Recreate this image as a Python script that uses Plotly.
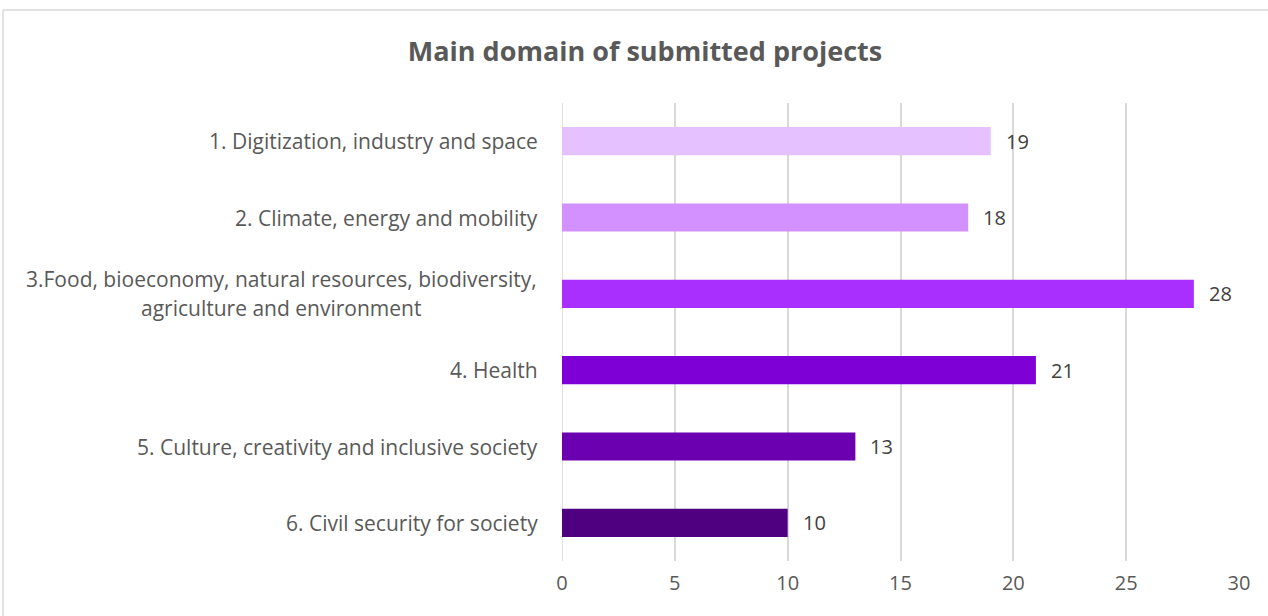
import plotly.graph_objects as go

categories = [
    "1. Digitization, industry and space",
    "2. Climate, energy and mobility",
    "3.Food, bioeconomy, natural resources, biodiversity,<br>agriculture and environment",
    "4. Health",
    "5. Culture, creativity and inclusive society",
    "6. Civil security for society",
]
values = [19, 18, 28, 21, 13, 10]
colors = ["#E6C1FF", "#D291FF", "#A92FFE", "#7F00D6", "#6B00B0", "#4E0080"]
x_ticks = [0, 5, 10, 15, 20, 25, 30]
title = "Main domain of submitted projects"

FONT = "Open Sans"
GREY = "#595959"
LINE_H = 29

fig = go.Figure()
fig.add_trace(go.Bar(
    x=values, y=categories, orientation="h",
    marker=dict(color=colors, line=dict(width=0)),
    width=0.37, hoverinfo="x+y",
))

annotations = []
for c in categories:
    lines = c.split("<br>")
    n = len(lines)
    for i, ln in enumerate(lines):
        annotations.append(dict(
            x=0, xref="paper", y=c, yref="y", text=ln, showarrow=False,
            xanchor="right" if n == 1 else "center",
            xshift=-22 if n == 1 else -281,
            yshift=((n - 1) / 2 - i) * LINE_H,
            font=dict(family=FONT, size=21, color=GREY),
        ))
for c, v in zip(categories, values):
    annotations.append(dict(
        x=v, xref="x", y=c, yref="y", text=str(v), showarrow=False,
        xanchor="left", xshift=13,
        font=dict(family=FONT, size=20, color="#404040"),
    ))

top_border = (561 - 10) / 458
left_border = (3 - 562) / 677

fig.update_layout(
    width=1268, height=616,
    margin=dict(l=562, r=29, t=103, b=55),
    paper_bgcolor="white", plot_bgcolor="white",
    showlegend=False,
    title=dict(text="<b>" + title + "</b>", x=645 / 1268, xanchor="center",
               y=1 - 52 / 616, yanchor="middle",
               font=dict(family=FONT, size=27, color=GREY)),
    annotations=annotations,
    xaxis=dict(range=[0, 30], tickvals=x_ticks, showgrid=True,
               gridcolor="#D9D9D9", gridwidth=1.5, zeroline=False,
               showline=False, ticks="", ticklabelstandoff=8,
               tickfont=dict(family=FONT, size=20, color=GREY)),
    yaxis=dict(categoryorder="array", categoryarray=categories[::-1],
               showticklabels=False, showgrid=False, zeroline=False,
               ticks=""),
    shapes=[
        dict(type="line", xref="paper", yref="paper",
             x0=left_border, x1=left_border, y0=top_border, y1=-0.2,
             line=dict(color="#D9D9D9", width=1.5)),
        dict(type="line", xref="paper", yref="paper",
             x0=left_border, x1=1.1, y0=top_border, y1=top_border,
             line=dict(color="#D9D9D9", width=1.5)),
        dict(type="line", xref="x", yref="paper",
             x0=0, x1=0, y0=0, y1=1, layer="below",
             line=dict(color="#D9D9D9", width=1.5)),
    ],
)

fig.write_html("out.html", config={"displayModeBar": False},
               post_script="document.body.style.margin='0';document.body.style.overflow='hidden';")
